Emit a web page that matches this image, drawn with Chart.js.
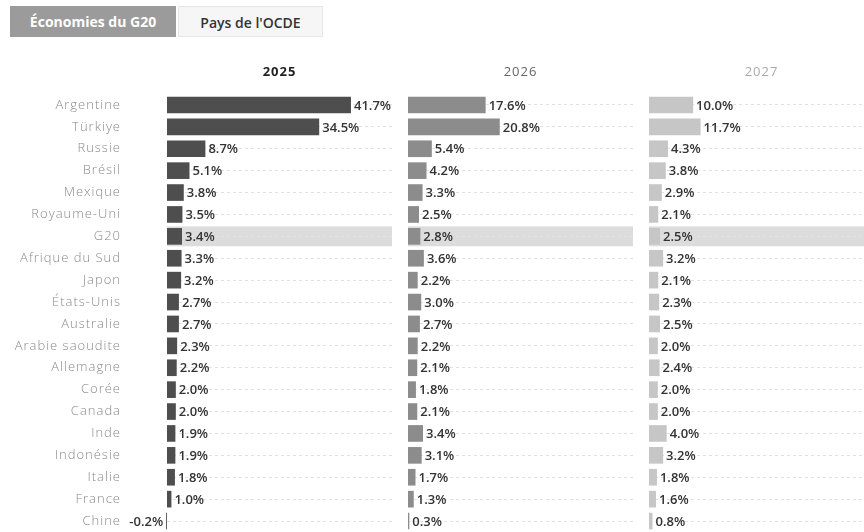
<!DOCTYPE html>
<html lang="fr">
<head>
<meta charset="utf-8">
<script src="https://cdn.jsdelivr.net/npm/chart.js@4.4.1/dist/chart.umd.min.js"></script>
<style>
    html, body { margin: 0; padding: 0; background: #fff; }
    body { width: 864px; height: 532px; overflow: hidden; position: relative; font-family: "Open Sans", sans-serif; }
    .tab { position: absolute; top: 6px; height: 31px; line-height: 31px; font-size: 14px; font-weight: 700; text-align: center; box-sizing: border-box; }
    #tabG20 { left: 10px; width: 166px; background: #9b9b9b; color: #fff; }
    #tabOCDE { left: 178px; width: 145px; background: #f6f6f6; color: #333; border: 1px solid #e6e6e6; font-weight: 600; }
    canvas { position: absolute; top: 0; }
</style>
</head>
<body>
<div class="tab" id="tabG20">Économies du G20</div>
<div class="tab" id="tabOCDE">Pays de l'OCDE</div>
<canvas id="c2025" width="392" height="532" style="left:0px"></canvas>
<canvas id="c2026" width="225" height="532" style="left:408px"></canvas>
<canvas id="c2027" width="225" height="532" style="left:649px"></canvas>

<script>
// ===== DATA =====
const countries = ["Argentine", "Türkiye", "Russie", "Brésil", "Mexique", "Royaume-Uni", "G20",
    "Afrique du Sud", "Japon", "États-Unis", "Australie", "Arabie saoudite", "Allemagne", "Corée",
    "Canada", "Inde", "Indonésie", "Italie", "France", "Chine"];
const years = ["2025", "2026", "2027"];
const values2025 = [41.7, 34.5, 8.7, 5.1, 3.8, 3.5, 3.4, 3.3, 3.2, 2.7, 2.7, 2.3, 2.2, 2.0, 2.0, 1.9, 1.9, 1.8, 1.0, -0.2];
const values2026 = [17.6, 20.8, 5.4, 4.2, 3.3, 2.5, 2.8, 3.6, 2.2, 3.0, 2.7, 2.2, 2.1, 1.8, 2.1, 3.4, 3.1, 1.7, 1.3, 0.3];
const values2027 = [10.0, 11.7, 4.3, 3.8, 2.9, 2.1, 2.5, 3.2, 2.1, 2.3, 2.5, 2.0, 2.4, 2.0, 2.0, 4.0, 3.2, 1.8, 1.6, 0.8];
const highlightRow = "G20";

// ===== PLUGINS =====
const highlightBand = {
    id: "highlightBand",
    beforeDraw(chart) {
        const y = chart.scales.y;
        const idx = countries.indexOf(highlightRow);
        const ctx = chart.ctx;
        // wider tracking for the country names
        ctx.letterSpacing = "1px";
        if (idx < 0) return;
        const py = y.getPixelForValue(idx);
        const half = (y.getPixelForValue(1) - y.getPixelForValue(0)) / 2 - 1;
        ctx.save();
        ctx.fillStyle = "#dcdcdc";
        ctx.fillRect(chart.chartArea.left, py - half, chart.chartArea.right - chart.chartArea.left, half * 2);
        ctx.restore();
    }
};

const valueLabels = {
    id: "valueLabels",
    afterDatasetsDraw(chart) {
        const ctx = chart.ctx;
        const data = chart.data.datasets[0].data;
        ctx.save();
        ctx.letterSpacing = "0px";
        ctx.font = "600 13px 'Open Sans'";
        ctx.fillStyle = "#333";
        ctx.textBaseline = "middle";
        chart.getDatasetMeta(0).data.forEach((bar, i) => {
            const v = data[i];
            const txt = v.toFixed(1) + "%";
            if (v >= 0) {
                ctx.textAlign = "left";
                ctx.fillText(txt, bar.x + 3, bar.y + 1);
            } else {
                ctx.textAlign = "right";
                ctx.fillText(txt, bar.x - 3, bar.y + 1);
            }
        });
        ctx.restore();
        ctx.letterSpacing = "0px";
    }
};

// ===== PANEL BUILDER =====
function makePanel(id, year, values, barColor, titleColor, titleWeight, showLabels) {
    new Chart(document.getElementById(id), {
        type: "bar",
        data: {
            labels: countries,
            datasets: [{
                label: year,
                data: values,
                backgroundColor: barColor,
                categoryPercentage: 1,
                barPercentage: 0.76,
                clip: false
            }]
        },
        options: {
            indexAxis: "y",
            responsive: false,
            animation: false,
            layout: { padding: 0 },
            plugins: { legend: { display: false }, tooltip: { enabled: false } },
            scales: {
                x: {
                    position: "top",
                    min: 0,
                    max: 51,
                    ticks: { display: false },
                    grid: { display: false, drawTicks: false },
                    border: { display: false },
                    title: {
                        display: true,
                        text: year,
                        color: titleColor,
                        font: { family: "Open Sans", size: 13, weight: titleWeight },
                        padding: { top: 64, bottom: 0 }
                    },
                    afterFit: s => { s.height = 94; }
                },
                y: {
                    ticks: {
                        display: showLabels,
                        color: "#8a8a8a",
                        padding: 46,
                        font: { family: "Open Sans", size: 13, weight: 300 }
                    },
                    grid: { display: true, offset: false, drawTicks: false, color: "#e2e2e2" },
                    border: { display: false, dash: [3, 3] },
                    afterFit: s => {
                        s.width = showLabels ? 167 : 0;
                        s.paddingTop = 0;
                        s.paddingBottom = 0;
                    }
                }
            }
        },
        plugins: [highlightBand, valueLabels]
    });
}

makePanel("c2025", years[0], values2025, "#4e4e4e", "#222", "bold", true);
makePanel("c2026", years[1], values2026, "#8c8c8c", "#666", "normal", false);
makePanel("c2027", years[2], values2027, "#c6c6c6", "#aaa", "normal", false);
</script>
</body>
</html>
